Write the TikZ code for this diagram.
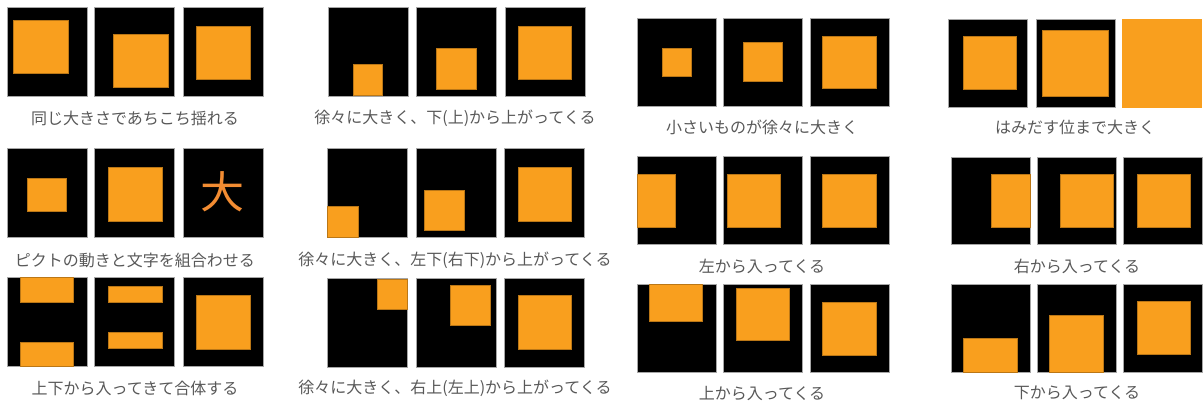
\documentclass[tikz,border=0pt]{standalone}
\usepackage{fontspec}
\newfontfamily\jpfont{Noto Sans CJK JP}
\usetikzlibrary{positioning}
\definecolor{pictorange}{RGB}{249,159,30}
\definecolor{charorange}{RGB}{242,140,50}
\definecolor{captext}{RGB}{88,88,88}
\tikzset{
  frame/.style={fill=black, draw=black!35, line width=0.8pt},
  pict/.style={fill=pictorange, draw=pictorange!75!black, line width=0.4pt},
  caption/.style={
    font=\jpfont\fontsize{16}{18}\selectfont,
    text=captext, inner sep=0pt
  },
  bigchar/.style={
    font=\jpfont\fontsize{44}{44}\selectfont,
    text=charorange, inner sep=0pt
  }
}
\begin{document}
\begin{tikzpicture}[x=1pt, y=-1pt]
\useasboundingbox (0,0) rectangle (1203,401);

\draw[frame] (7,7) rectangle ++(80,89);
\draw[frame] (94,7) rectangle ++(80,89);
\draw[frame] (183,7) rectangle ++(80,89);
\fill[pict] (13,20) rectangle (68,73);
\fill[pict] (113,34) rectangle (168,87);
\fill[pict] (196,26) rectangle (250,79);
\node[caption] (cap11) at (135,118) {同じ大きさであちこち揺れる};

\draw[frame] (7,148) rectangle ++(80,89);
\draw[frame] (94,148) rectangle ++(80,89);
\draw[frame] (183,148) rectangle ++(80,89);
\fill[pict] (27,178) rectangle (66,211);
\fill[pict] (108,167) rectangle (162,221);
\node[bigchar] (dai) at (222,192) {大};
\node[caption] (cap12) at (135,260) {ピクトの動きと文字を組合わせる};

\draw[frame] (7,277) rectangle ++(80,89);
\draw[frame] (94,277) rectangle ++(80,89);
\draw[frame] (183,277) rectangle ++(80,89);
\fill[pict] (20,277) rectangle (73,302);
\fill[pict] (20,342) rectangle (73,366);
\fill[pict] (108,286) rectangle (162,302);
\fill[pict] (108,332) rectangle (162,348);
\fill[pict] (196,295) rectangle (250,349);
\node[caption] (cap13) at (135,388) {上下から入ってきて合体する};

\draw[frame] (328,7) rectangle ++(80,89);
\draw[frame] (416,7) rectangle ++(80,89);
\draw[frame] (505,7) rectangle ++(80,89);
\fill[pict] (353,64) rectangle (382,95);
\fill[pict] (436,48) rectangle (476,89);
\fill[pict] (518,26) rectangle (571,79);
\node[caption] (cap21) at (455,118) {徐々に大きく、下(上)から上がってくる};

\draw[frame] (327,148) rectangle ++(80,89);
\draw[frame] (416,148) rectangle ++(80,89);
\draw[frame] (504,148) rectangle ++(80,89);
\fill[pict] (327,206) rectangle (358,237);
\fill[pict] (424,190) rectangle (464,230);
\fill[pict] (518,167) rectangle (571,221);
\node[caption] (cap22) at (455,260) {徐々に大きく、左下(右下)から上がってくる};

\draw[frame] (327,278) rectangle ++(80,89);
\draw[frame] (416,278) rectangle ++(80,89);
\draw[frame] (504,278) rectangle ++(80,89);
\fill[pict] (377,279) rectangle (407,309);
\fill[pict] (450,285) rectangle (490,325);
\fill[pict] (518,295) rectangle (571,349);
\node[caption] (cap23) at (455,388) {徐々に大きく、右上(左上)から上がってくる};

\draw[frame] (637,18) rectangle ++(79,88);
\draw[frame] (723,18) rectangle ++(79,88);
\draw[frame] (810,18) rectangle ++(79,88);
\fill[pict] (662,48) rectangle (691,76);
\fill[pict] (743,42) rectangle (782,81);
\fill[pict] (822,36) rectangle (876,88);
\node[caption] (cap31) at (762,127) {小さいものが徐々に大きく};

\draw[frame] (637,156) rectangle ++(79,88);
\draw[frame] (723,156) rectangle ++(79,88);
\draw[frame] (810,156) rectangle ++(79,88);
\fill[pict] (637,174) rectangle (675,227);
\fill[pict] (727,174) rectangle (780,227);
\fill[pict] (822,174) rectangle (876,227);
\node[caption] (cap32) at (762,266) {左から入ってくる};

\draw[frame] (637,284) rectangle ++(79,88);
\draw[frame] (723,284) rectangle ++(79,88);
\draw[frame] (810,284) rectangle ++(79,88);
\fill[pict] (649,284) rectangle (702,321);
\fill[pict] (736,288) rectangle (789,340);
\fill[pict] (822,302) rectangle (876,355);
\node[caption] (cap33) at (762,394) {上から入ってくる};

\draw[frame] (948,19) rectangle ++(79,88);
\draw[frame] (1036,19) rectangle ++(79,88);
\fill[pict, draw=pictorange] (1122,19) rectangle ++(79,88);
\fill[pict] (963,36) rectangle (1016,89);
\fill[pict] (1042,30) rectangle (1108,96);
\node[caption] (cap41) at (1075,127) {はみだす位まで大きく};

\draw[frame] (951,157) rectangle ++(79,87);
\draw[frame] (1037,157) rectangle ++(79,87);
\draw[frame] (1123,157) rectangle ++(79,87);
\fill[pict] (991,174) rectangle (1030,227);
\fill[pict] (1060,174) rectangle (1113,227);
\fill[pict] (1137,174) rectangle (1190,227);
\node[caption] (cap42) at (1077,266) {右から入ってくる};

\draw[frame] (951,284) rectangle ++(79,88);
\draw[frame] (1037,284) rectangle ++(79,88);
\draw[frame] (1123,284) rectangle ++(79,88);
\fill[pict] (963,338) rectangle (1017,372);
\fill[pict] (1049,315) rectangle (1103,372);
\fill[pict] (1137,301) rectangle (1190,354);
\node[caption] (cap43) at (1077,393) {下から入ってくる};

\end{tikzpicture}
\end{document}
